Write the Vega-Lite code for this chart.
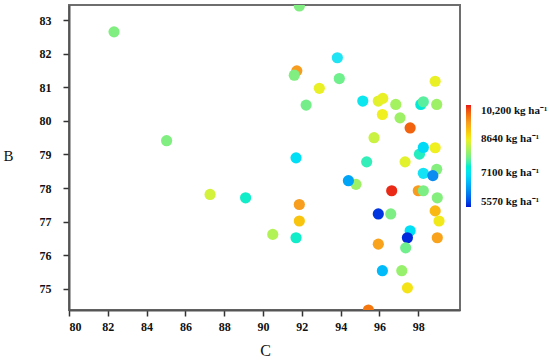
{
  "$schema": "https://vega.github.io/schema/vega-lite/v6.json",
  "width": 391,
  "height": 305,
  "autosize": {"type": "none"},
  "padding": {"left": 69, "top": 5, "right": 90, "bottom": 53},
  "background": "white",
  "config": {
    "view": {"stroke": "#6e6e6e", "strokeWidth": 2},
    "font": "Liberation Serif"
  },
  "data": {
    "values": [
      {"C": 91.87, "B": 83.42, "Y": 7870},
      {"C": 93.83, "B": 81.88, "Y": 7100},
      {"C": 91.74, "B": 81.49, "Y": 9420},
      {"C": 91.61, "B": 81.36, "Y": 7870},
      {"C": 93.93, "B": 81.26, "Y": 7800},
      {"C": 92.9, "B": 80.97, "Y": 8600},
      {"C": 98.87, "B": 81.18, "Y": 8600},
      {"C": 92.22, "B": 80.47, "Y": 7820},
      {"C": 95.14, "B": 80.59, "Y": 7150},
      {"C": 95.94, "B": 80.59, "Y": 8550},
      {"C": 96.17, "B": 80.67, "Y": 8600},
      {"C": 96.84, "B": 80.49, "Y": 8150},
      {"C": 98.13, "B": 80.49, "Y": 7350},
      {"C": 98.26, "B": 80.57, "Y": 7700},
      {"C": 98.95, "B": 80.49, "Y": 8100},
      {"C": 96.15, "B": 80.19, "Y": 8650},
      {"C": 97.06, "B": 80.09, "Y": 8100},
      {"C": 97.58, "B": 79.79, "Y": 9850},
      {"C": 95.72, "B": 79.5, "Y": 8400},
      {"C": 91.7, "B": 78.9, "Y": 7050},
      {"C": 95.34, "B": 78.78, "Y": 7550},
      {"C": 97.32, "B": 78.78, "Y": 8550},
      {"C": 98.06, "B": 79.01, "Y": 7500},
      {"C": 98.26, "B": 79.21, "Y": 7000},
      {"C": 98.87, "B": 79.2, "Y": 8650},
      {"C": 98.26, "B": 78.44, "Y": 7080},
      {"C": 98.95, "B": 78.56, "Y": 7900},
      {"C": 98.75, "B": 78.37, "Y": 6300},
      {"C": 94.79, "B": 78.11, "Y": 8100},
      {"C": 94.4, "B": 78.22, "Y": 6500},
      {"C": 96.63, "B": 77.92, "Y": 10150},
      {"C": 98.0, "B": 77.92, "Y": 9420},
      {"C": 98.26, "B": 77.92, "Y": 7850},
      {"C": 98.98, "B": 77.71, "Y": 7900},
      {"C": 91.87, "B": 77.51, "Y": 9400},
      {"C": 91.87, "B": 77.02, "Y": 9050},
      {"C": 90.5, "B": 76.62, "Y": 8250},
      {"C": 91.7, "B": 76.52, "Y": 7450},
      {"C": 95.94, "B": 77.23, "Y": 5700},
      {"C": 96.58, "B": 77.23, "Y": 7850},
      {"C": 98.87, "B": 77.32, "Y": 9150},
      {"C": 99.07, "B": 77.02, "Y": 8700},
      {"C": 98.98, "B": 76.52, "Y": 9350},
      {"C": 97.58, "B": 76.73, "Y": 7050},
      {"C": 97.44, "B": 76.52, "Y": 5650},
      {"C": 97.35, "B": 76.22, "Y": 7800},
      {"C": 95.94, "B": 76.33, "Y": 9350},
      {"C": 96.15, "B": 75.54, "Y": 6700},
      {"C": 97.15, "B": 75.54, "Y": 8050},
      {"C": 97.44, "B": 75.03, "Y": 8750},
      {"C": 95.43, "B": 74.37, "Y": 9700},
      {"C": 87.27, "B": 77.81, "Y": 8450},
      {"C": 89.1, "B": 77.71, "Y": 7450},
      {"C": 82.32, "B": 82.65, "Y": 7870},
      {"C": 85.03, "B": 79.41, "Y": 7870}
    ]
  },
  "mark": {"type": "circle", "size": 125, "opacity": 1, "clip": true},
  "encoding": {
    "x": {
      "field": "C", "type": "quantitative",
      "scale": {"domain": [80, 100.15], "nice": false, "zero": false},
      "axis": {
        "values": [80, 82, 84, 86, 88, 90, 92, 94, 96, 98],
        "grid": false, "title": "C",
        "titleFont": "Liberation Serif", "titleFontSize": 16, "titleFontWeight": "normal",
        "titleColor": "#111", "titleX": 196, "titleY": 40, "titleBaseline": "middle",
        "labelFont": "Liberation Serif", "labelFontSize": 12, "labelFontWeight": "bold",
        "labelColor": "#111", "labelPadding": 5,
        "tickSize": 6, "tickColor": "#333", "tickWidth": 1.5,
        "domainColor": "#555", "domainWidth": 2
      }
    },
    "y": {
      "field": "B", "type": "quantitative",
      "scale": {"domain": [74.37, 83.45], "nice": false, "zero": false},
      "axis": {
        "values": [75, 76, 77, 78, 79, 80, 81, 82, 83],
        "grid": false, "title": "B",
        "titleFont": "Liberation Serif", "titleFontSize": 15, "titleFontWeight": "normal",
        "titleColor": "#111", "titleAngle": 0, "titleX": -61, "titleY": 150,
        "titleAlign": "center", "titleBaseline": "middle",
        "labelFont": "Liberation Serif", "labelFontSize": 12, "labelFontWeight": "bold",
        "labelColor": "#111", "labelPadding": 12,
        "tickSize": 6, "tickColor": "#333", "tickWidth": 1.5,
        "domainColor": "#555", "domainWidth": 2
      }
    },
    "color": {
      "field": "Y", "type": "quantitative",
      "scale": {
        "domain": [5570, 6335, 7100, 7870, 8640, 9420, 10200],
        "range": ["#0a14d4", "#1e90f0", "#20e4f4", "#80ee80", "#f0f020", "#f89c20", "#e81818"]
      },
      "legend": {
        "orient": "none", "legendX": 397, "legendY": 100,
        "direction": "vertical", "title": null,
        "values": [5570, 7100, 8640, 10200],
        "gradientLength": 102, "gradientThickness": 5, "gradientStrokeWidth": 0,
        "labelOffset": 10, "labelFont": "Liberation Serif", "labelFontSize": 11,
        "labelFontWeight": "bold", "labelColor": "#111", "labelOverlap": false,
        "labelExpr": "datum.value == 10200 ? '10,200 kg ha⁻¹' : datum.value + ' kg ha⁻¹'"
      }
    }
  }
}
